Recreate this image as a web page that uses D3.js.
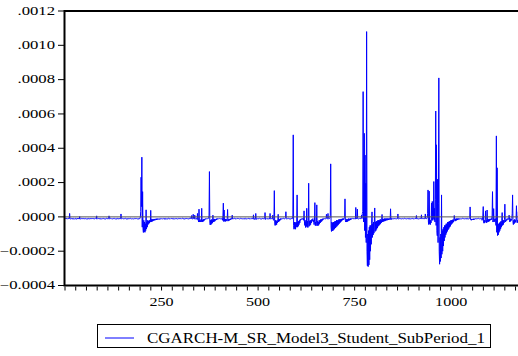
<!DOCTYPE html>
<html>
<head>
<meta charset="utf-8">
<script src="https://cdn.jsdelivr.net/npm/d3@7"></script>
<style>
  html, body { margin: 0; padding: 0; background: #fff; }
  svg { display: block; }
  text { font-family: "Liberation Serif", "Times New Roman", serif; fill: #000; }
</style>
</head>
<body>
<svg id="chart" width="518" height="356"></svg>
<script>
// series name + axis ticks
const seriesName = "CGARCH-M_SR_Model3_Student_SubPeriod_1";
const yTicks = [-0.0004, -0.0002, 0, 0.0002, 0.0004, 0.0006, 0.0008, 0.0010, 0.0012];
const xTickLabels = [250, 500, 750, 1000];
const unit = 1e-4; // values below are in units of 1e-4

// observation 1..1175, one row = 25 observations
const values = [
  /*    1 */ -.1,-.06,-.12,-.1,-.08,-.1,-.13,-.1,-.09,-.06,-.1,.2,-.1,-.12,-.1,-.08,-.1,-.13,-.1,-.1,-.14,-.1,-.08,-.1,-.12,
  /*   26 */ -.1,-.12,-.08,-.1,-.14,-.1,-.1,-.07,-.12,-.1,-.1,-.13,.02,-.1,-.12,-.1,-.08,-.1,-.13,-.1,-.1,-.12,-.09,-.1,-.11,
  /*   51 */ -.1,-.13,-.1,-.08,-.1,-.12,-.1,-.1,-.14,-.1,-.09,-.1,-.12,-.1,-.07,-.1,-.13,-.1,-.1,-.12,-.1,-.08,-.11,-.1,-.13,
  /*   76 */ -.1,-.12,-.1,-.08,-.1,-.12,.06,-.1,-.13,-.1,-.09,-.1,-.12,-.1,-.1,-.14,-.1,-.08,-.1,-.12,-.1,-.1,-.13,-.1,-.09,
  /*  101 */ -.1,-.12,-.1,-.1,-.14,-.1,-.08,-.1,-.12,-.1,-.1,-.13,-.1,.06,-.1,-.12,-.1,-.08,-.1,-.13,-.1,-.1,-.12,-.1,-.09,
  /*  126 */ -.1,-.13,-.1,-.08,-.1,-.12,-.1,-.1,-.14,-.1,-.09,-.1,-.12,-.1,-.07,-.1,-.13,-.1,-.1,.17,-.1,-.12,-.1,-.08,-.11,
  /*  151 */ -.1,-.12,-.1,-.1,-.13,-.1,-.08,-.1,-.12,-.1,-.14,-.1,-.1,-.09,-.12,-.1,-.1,-.13,-.1,-.08,-.1,-.12,-.1,-.1,-.11,
  /*  176 */ -.1,-.12,-.1,-.08,-.1,-.13,-.1,-.1,-.12,-.1,-.09,-.1,-.12,-.1,-.1,-.14,-.1,-.08,-.1,-.05,.3,2.31,.6,3.48,-.6,
  /*  201 */ 1.47,-.7,-.91,-.2,-.88,-.3,-.9,-.4,-.8,.41,-.7,-.3,-.6,-.2,-.45,-.25,-.4,-.2,-.35,-.2,-.3,.38,-.3,-.15,-.28,
  /*  226 */ -.15,-.25,-.12,-.22,-.15,-.2,-.12,-.2,-.15,-.18,-.1,-.18,-.12,-.15,-.1,-.15,-.12,-.12,-.1,-.15,-.1,-.12,-.1,-.12,-.1,
  /*  251 */ -.1,-.12,-.1,-.08,-.1,-.13,-.1,-.1,-.15,-.1,-.09,-.1,-.12,-.1,-.1,-.14,-.1,-.08,-.1,-.12,-.1,-.1,-.13,-.1,-.09,
  /*  276 */ -.1,-.12,-.1,-.1,-.14,-.1,-.08,-.1,-.12,-.1,-.1,-.13,-.1,-.1,-.1,-.12,-.1,-.08,-.1,-.13,-.1,-.1,-.12,-.1,-.09,
  /*  301 */ -.1,-.13,-.1,-.08,-.1,-.12,-.1,-.1,-.14,-.1,-.09,-.1,-.12,-.1,-.07,-.1,-.13,-.1,-.1,-.12,-.1,-.08,-.11,-.1,-.05,
  /*  326 */ -.1,-.1,.08,-.1,-.12,-.1,.15,-.1,-.1,-.12,.1,-.1,-.12,-.1,-.1,-.1,-.15,.2,-.15,-.2,-.3,.45,-.3,-.2,-.25,
  /*  351 */ -.3,-.15,-.28,.5,-.3,-.18,-.28,-.15,-.25,-.12,-.2,-.12,-.15,-.1,-.12,-.1,-.12,-.1,-.1,-.12,-.1,-.08,.1,2.64,-.3,
  /*  376 */ -.47,-.2,-.45,-.15,-.4,-.2,-.35,.1,-.3,-.15,-.28,-.12,-.25,-.15,-.2,-.12,-.18,-.1,-.15,-.1,-.12,-.1,-.12,-.1,-.1,
  /*  401 */ -.1,-.12,-.1,-.08,-.1,-.12,-.1,-.2,.1,.8,-.27,.4,-.25,-.15,-.27,-.12,-.25,-.15,-.22,-.1,.43,-.25,-.15,-.22,-.12,
  /*  426 */ -.2,-.12,-.18,-.1,-.15,-.1,-.12,.1,-.12,-.1,-.1,-.13,-.1,-.08,-.1,-.12,-.1,-.1,-.13,-.1,-.09,-.1,-.12,-.1,-.1,
  /*  451 */ -.1,-.12,-.1,-.08,-.1,-.13,-.1,-.1,-.12,-.1,-.09,-.1,-.12,-.1,-.1,-.14,-.1,-.08,-.1,-.12,-.1,-.1,-.13,-.1,-.09,
  /*  476 */ -.1,-.12,-.1,-.1,-.13,-.1,-.08,-.1,-.12,-.1,-.1,-.13,.12,-.12,-.15,-.1,-.14,-.1,.2,-.15,-.12,-.1,-.13,-.1,-.1,
  /*  501 */ -.1,-.12,-.1,-.08,-.1,-.12,-.1,-.1,-.14,-.1,-.09,-.1,-.12,-.1,-.1,-.13,-.1,.25,-.15,-.12,-.1,-.13,-.1,-.1,-.12,
  /*  526 */ -.1,-.12,-.1,-.1,-.13,.2,-.1,-.12,-.1,-.1,-.13,-.1,.1,-.12,-.2,-.15,1.53,-.3,-.5,-.2,-.48,-.25,-.45,-.2,-.35,
  /*  551 */ -.25,.15,-.3,-.15,-.25,-.12,-.2,-.1,-.15,-.1,-.12,-.1,-.1,-.13,-.1,-.08,-.1,-.12,-.1,-.1,-.05,.3,-.1,-.12,-.1,
  /*  576 */ -.1,-.13,-.1,-.08,-.1,-.12,-.1,-.1,-.14,-.1,-.09,-.1,-.12,-.1,.05,4.78,-.5,-.72,-.3,-.68,-.35,-.72,-.3,-.6,-.25,
  /*  601 */ 1.28,-.6,-.3,-.55,-.25,-.45,-.2,-.35,-.15,-.2,-.12,-.15,-.1,-.12,-.1,-.15,-.1,-.2,.35,-.3,-.5,-.2,-.62,-.3,-.55,
  /*  626 */ .5,-.6,-.25,-.62,-.3,1.96,-.55,-.25,-.5,-.2,-.45,-.2,-.35,-.15,-.25,-.15,-.1,-.3,-.2,-.45,-.25,.83,-.5,-.3,-.52,
  /*  651 */ -.3,.7,-.5,-.25,-.52,-.3,-.48,-.2,-.4,-.2,-.35,-.15,-.3,-.15,-.25,-.12,-.2,-.1,-.15,-.1,-.12,-.1,-.1,-.12,-.1,
  /*  676 */ -.1,.15,-.1,-.12,-.1,.2,-.1,-.12,-.1,-.1,-.05,.1,3.09,-.6,-.85,-.3,-.82,-.35,-.8,-.3,-.75,-.3,-.7,-.25,-.65,
  /*  701 */ -.25,-.6,-.2,-.55,-.2,-.5,-.2,-.45,-.15,-.4,-.15,-.35,-.15,-.3,-.12,-.25,-.12,-.2,-.1,-.18,-.1,-.15,-.1,-.05,1.05,
  /*  726 */ -.2,-.3,-.15,-.3,-.12,-.28,-.15,-.25,-.1,-.22,-.12,-.2,-.1,-.18,-.1,-.15,-.1,-.12,-.1,-.1,-.12,-.1,-.1,-.13,-.1,
  /*  751 */ -.1,-.12,.55,-.1,-.1,-.12,.45,-.1,-.1,-.12,-.1,-.08,-.1,-.12,-.1,-.1,-.05,.1,-.1,.2,.3,7.3,-.3,1.0,4.87,
  /*  776 */ -.8,3.6,-1.2,1.96,-1.5,10.8,-2.0,-2.85,-1.0,-2.9,-.8,-2.8,-.6,-2.5,-.5,-2.0,-.5,-1.6,-.4,.29,-1.2,-.4,-1.05,-.3,-.95,
  /*  801 */ -.3,.52,-.85,-.3,-.8,-.25,-.72,-.25,-.65,-.2,-.55,-.2,-.5,-.2,-.45,-.15,-.4,-.15,-.35,-.15,.14,-.3,-.12,-.28,-.12,
  /*  826 */ -.25,-.1,-.25,-.1,-.22,-.1,-.2,-.1,-.2,-.1,-.18,-.1,-.18,-.1,-.15,-.1,-.15,.47,-.15,-.1,-.15,-.1,-.13,-.1,-.12,
  /*  851 */ -.1,-.12,-.1,-.1,-.13,-.1,-.08,-.1,-.12,-.1,-.1,.17,-.1,-.12,-.1,-.08,-.1,-.13,-.1,-.1,-.12,-.1,-.09,-.1,-.12,
  /*  876 */ -.1,-.12,-.1,-.08,-.1,-.13,-.1,-.1,-.12,-.1,-.09,-.1,-.12,-.1,-.1,-.14,-.1,-.08,-.1,-.12,-.1,-.1,-.13,-.1,-.09,
  /*  901 */ -.1,-.12,-.1,-.1,-.13,-.1,-.08,-.1,-.12,.08,-.1,-.13,-.1,-.1,-.12,-.1,-.08,-.1,-.12,-.1,-.1,-.12,.12,-.1,-.1,
  /*  926 */ -.1,-.12,-.1,-.1,-.13,-.1,-.1,.17,-.1,-.12,-.1,-.1,-.05,.2,1.57,-.3,-.45,1.5,-.4,-.2,-.45,-.2,-.35,.8,-.2,
  /*  951 */ .9,-.2,.3,-.1,2.06,-.2,.5,-.3,1.0,6.17,-.5,4.2,-.8,-1.1,2.2,-1.5,.8,8.1,-2.0,-2.76,-1.2,-2.6,-1.0,-2.4,1.28,
  /*  976 */ -2.18,-.8,-2.0,-.7,-1.7,-.6,-1.4,-.5,-1.2,-.5,-1.05,-.4,-.95,-.4,-.85,-.3,-.75,-.3,-.68,-.25,-.6,-.25,-.55,-.2,-.45,
  /* 1001 */ -.2,-.4,-.18,-.35,-.15,-.3,-.15,.08,-.12,-.25,-.12,-.22,-.1,-.2,-.1,-.18,-.1,-.15,-.1,-.15,-.1,-.12,-.1,-.12,-.1,
  /* 1026 */ -.1,-.12,-.1,-.08,-.1,-.13,-.1,-.1,-.12,-.1,-.09,-.1,-.12,-.1,-.1,-.14,-.1,-.08,-.1,-.12,-.1,-.1,-.05,.58,-.15,
  /* 1051 */ -.15,-.2,-.12,-.18,-.13,-.15,-.12,-.18,-.1,-.15,-.12,-.13,-.1,-.12,-.1,-.12,-.1,-.1,-.13,-.1,-.08,-.1,-.12,-.1,-.1,
  /* 1076 */ -.1,-.12,-.1,-.1,-.2,-.15,.1,.6,-.3,-.37,-.2,-.35,-.15,.35,-.3,-.2,-.35,.4,-.25,-.3,-.15,-.28,-.12,-.25,-.12,
  /* 1101 */ -.2,-.12,-.18,-.1,-.15,.1,1.47,-.3,-.2,.48,-.3,-.15,-.25,-.1,-.2,-.5,4.72,-.9,2.86,-1.09,-.5,-1.05,-.4,-.9,-.35,
  /* 1126 */ -.8,-.3,-.7,-.25,-.6,-.2,.25,-.5,-.2,-.45,-.2,-.35,-.15,.74,-.3,-.2,-.25,-.15,-.2,-.1,-.15,-.1,-.12,-.15,.1,
  /* 1151 */ -.15,-.3,-.1,-.25,-.15,-.2,-.1,.2,1.28,-.3,-.45,-.2,-.4,-.15,-.35,-.2,-.3,-.1,.65,-.25,-.35,-.2,-.3,.3,-.2
];

const svg = d3.select("#chart");
const plotLeft = 65, plotRight = 518, plotTop = 11, plotBottom = 285.5;

const x = d3.scaleLinear().domain([0, 1173]).range([plotLeft, plotRight]);
const y = d3.scaleLinear().domain([-0.0004, 0.0012]).range([plotBottom, plotTop]);

svg.append("defs").append("clipPath").attr("id", "plot")
    .append("rect").attr("x", plotLeft).attr("y", plotTop)
    .attr("width", plotRight - plotLeft).attr("height", plotBottom - plotTop);

// series
const line = d3.line()
    .x((d, i) => x(i + 1))
    .y(d => y(d * unit));

svg.append("path")
    .datum(values)
    .attr("clip-path", "url(#plot)")
    .attr("fill", "none")
    .attr("stroke", "#0000ff")
    .attr("stroke-width", 1)
    .attr("d", line);

// zero line
svg.append("line")
    .attr("x1", plotLeft).attr("x2", plotRight)
    .attr("y1", y(0)).attr("y2", y(0))
    .attr("stroke", "#555").attr("stroke-width", 1);

// frame (no right side visible)
svg.append("path")
    .attr("d", `M${plotRight + 2},${plotTop}H${plotLeft - 0.5}V${plotBottom}H${plotRight + 2}`)
    .attr("fill", "none").attr("stroke", "#000").attr("stroke-width", 2);

// y ticks + labels
const fmt = v => d3.format(".4f")(v).replace(/^(-?)0\./, "$1.");
yTicks.forEach(t => {
    svg.append("line")
        .attr("x1", plotLeft - 7).attr("x2", plotLeft - 1)
        .attr("y1", y(t)).attr("y2", y(t))
        .attr("stroke", "#000").attr("stroke-width", 1);
    svg.append("text")
        .attr("transform", `translate(55,${y(t) + 3.8}) scale(1.45,1)`)
        .attr("text-anchor", "end")
        .attr("font-size", "11.5px")
        .text(fmt(Math.abs(t) < 1e-12 ? 0 : t));
});

// x minor/major ticks
d3.range(0, 1174, 250 / 9).forEach(t => {
    svg.append("line")
        .attr("x1", x(t)).attr("x2", x(t))
        .attr("y1", plotBottom + 1).attr("y2", plotBottom + 5)
        .attr("stroke", "#000").attr("stroke-width", 1);
});
xTickLabels.forEach(t => {
    svg.append("text")
        .attr("transform", `translate(${x(t)},306) scale(1.4,1)`)
        .attr("text-anchor", "middle")
        .attr("font-size", "11.5px")
        .text(t);
});

// legend
const lg = svg.append("g");
lg.append("rect")
    .attr("x", 97.5).attr("y", 324.5).attr("width", 393).attr("height", 23)
    .attr("fill", "#fff").attr("stroke", "#000").attr("stroke-width", 1);
lg.append("line")
    .attr("x1", 105).attr("x2", 134).attr("y1", 338).attr("y2", 338)
    .attr("stroke", "#0000ff").attr("stroke-width", 1);
lg.append("text")
    .attr("x", 147).attr("y", 343)
    .attr("font-size", "15px")
    .attr("textLength", 338)
    .attr("lengthAdjust", "spacingAndGlyphs")
    .text(seriesName);
</script>
</body>
</html>
